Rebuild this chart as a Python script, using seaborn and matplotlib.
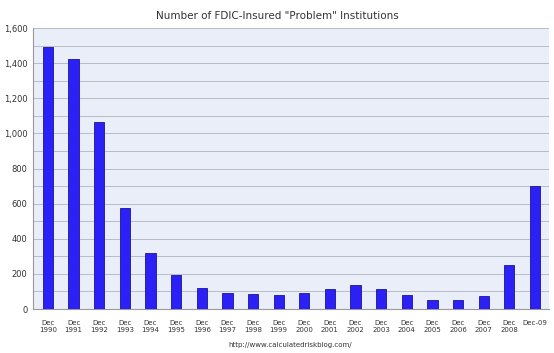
import pandas as pd
import numpy as np
import matplotlib.pyplot as plt
import seaborn as sns

# FDIC problem institutions, year-end counts
periods = ['Dec\n1990', 'Dec\n1991', 'Dec\n1992', 'Dec\n1993', 'Dec\n1994',
           'Dec\n1995', 'Dec\n1996', 'Dec\n1997', 'Dec\n1998', 'Dec\n1999',
           'Dec\n2000', 'Dec\n2001', 'Dec\n2002', 'Dec\n2003', 'Dec\n2004',
           'Dec\n2005', 'Dec\n2006', 'Dec\n2007', 'Dec\n2008', 'Dec-09']
problem_banks = [1492, 1426, 1063, 575, 318, 193, 117, 92, 84, 79,
                 94, 114, 136, 116, 80, 52, 50, 76, 252, 702]
y_ticks = [0, 200, 400, 600, 800, 1000, 1200, 1400, 1600]

df = pd.DataFrame({'period': periods, 'count': problem_banks})

sns.set_style('white')
fig = plt.figure(figsize=(5.54, 3.53), dpi=100)
ax = fig.add_axes([33 / 554, 0.1246, 516 / 554, 0.796])
ax.set_facecolor('#e9eef9')

sns.barplot(data=df, x='period', y='count', color='#2b20f5', width=0.4,
            saturation=1, edgecolor='#1a1499', linewidth=0.6, ax=ax, zorder=3)

ax.set_ylim(0, 1600)
ax.set_xlim(-0.585, len(periods) - 0.45)
ax.set_yticks(y_ticks)
ax.set_yticklabels([f'{v:,}' for v in y_ticks], fontsize=6, color='#333333')
ax.set_yticks(range(0, 1601, 100), minor=True)
ax.grid(axis='y', which='both', color='#b8bcc8', linewidth=0.7, zorder=0)
# tick marks sit between the categories
ax.set_xticks(np.arange(-0.5, len(periods), 1.0), minor=True)
ax.tick_params(axis='x', which='major', labelsize=5, colors='#333333',
               length=0, pad=8)
ax.tick_params(axis='x', which='minor', length=3, color='#999999')
ax.tick_params(axis='y', which='both', length=0, pad=4)
for s in ['top', 'right']:
    ax.spines[s].set_visible(False)
ax.spines['left'].set_color('#999999')
ax.spines['bottom'].set_color('#999999')
ax.set_xlabel('')
ax.set_ylabel('')

fig.text(0.5, 0.955, 'Number of FDIC-Insured "Problem" Institutions',
         ha='center', va='center', fontsize=7.5, color='#333333')
fig.text(0.523, 0.022, 'http://www.calculatedriskblog.com/', ha='center',
         va='center', fontsize=5, color='#333333')

fig.savefig('out.png', dpi=100, facecolor='white')
